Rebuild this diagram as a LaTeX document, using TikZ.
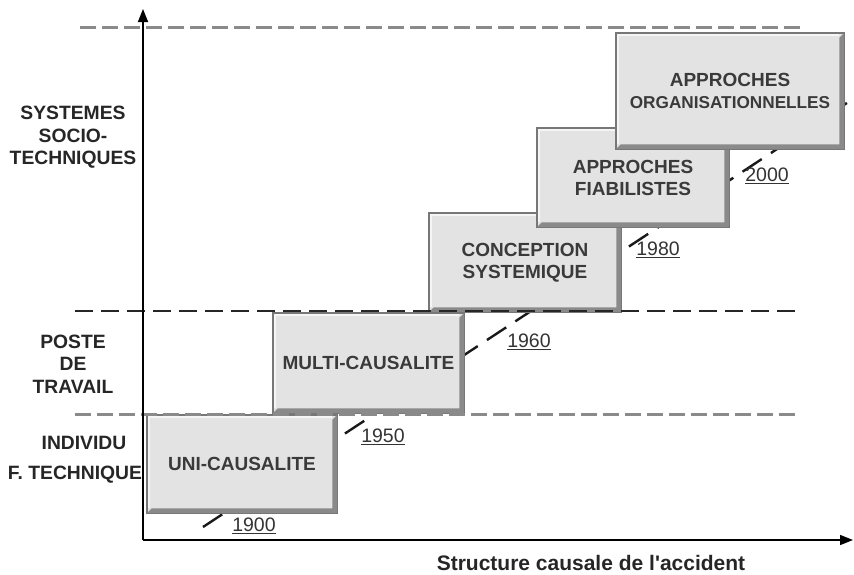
\documentclass[tikz,border=0pt]{standalone}
\usepackage{fontspec}
\setmainfont{Liberation Sans}
\usetikzlibrary{arrows.meta,calc}
\definecolor{boxfill}{HTML}{E3E3E3}
\definecolor{boxedge}{HTML}{777777}
\definecolor{boxshade}{HTML}{8A8A8A}
\definecolor{boxtext}{HTML}{3A3A3A}
\definecolor{levelgray}{HTML}{8A8A8A}
\tikzset{
  stagebox/.style={draw=boxedge, line width=0.9pt, fill=boxfill, inner sep=0pt,
    align=center, text=boxtext, font=\bfseries\fontsize{19}{22}\selectfont},
  levellabel/.style={align=center, text=black!85, font=\bfseries\fontsize{19.3}{22.5}\selectfont},
  yearlabel/.style={text=black!80, font=\fontsize{19.5}{20}\selectfont, inner sep=0pt},
  axisline/.style={line width=1.6pt, -{Triangle[length=13pt,width=10pt]}},
  graylevel/.style={draw=levelgray, line width=3pt, dash pattern=on 16pt off 6pt},
  blacklevel/.style={draw=black!85, line width=1.8pt, dash pattern=on 18pt off 8pt},
  timeline/.style={draw=black!90, line width=2.4pt, dash pattern=on 23pt off 11pt},
}
% bevel: dark band on the bottom and right, light rim on the top and left
\newcommand{\bevel}[1]{%
  \fill[boxshade] (#1.south west) -- (#1.south east) -- (#1.north east)
    -- ($(#1.north east)+(-5,5)$) -- ($(#1.south east)+(-5,-5)$)
    -- ($(#1.south west)+(5,-5)$) -- cycle;
  \draw[white!92!gray, line width=1.5pt]
    ($(#1.south west)+(2.5,-5)$) -- ($(#1.north west)+(2.5,2.5)$) -- ($(#1.north east)+(-5,2.5)$);
  \draw[boxedge, line width=0.9pt] (#1.south west) rectangle (#1.north east);
}
\begin{document}
\begin{tikzpicture}[x=1pt, y=-1pt]
  \useasboundingbox (0,0) rectangle (854,574);

  % time line running behind the stages
  \coordinate (d0) at (203,527);
  \coordinate (d1) at (856,97);
  \draw[timeline] (d0) -- (d1);

  % stages
  \node[stagebox, minimum width=190pt, minimum height=98pt] (uni) at (242,464) {UNI-CAUSALITE};
  \bevel{uni}
  \node[stagebox, minimum width=191pt, minimum height=100pt] (multi) at (368.5,363) {MULTI-CAUSALITE};
  \bevel{multi}
  \node[stagebox, minimum width=192pt, minimum height=99pt] (conc) at (525,262.5) {CONCEPTION\\SYSTEMIQUE};
  \bevel{conc}
  \node[stagebox, minimum width=192pt, minimum height=99pt] (fiab) at (633,177.5) {APPROCHES\\FIABILISTES};
  \bevel{fiab}
  \node[stagebox, minimum width=228pt, minimum height=116pt] (org) at (730,91)
    {APPROCHES\\{\fontsize{17.2}{21}\selectfont ORGANISATIONNELLES}};
  \bevel{org}

  % level boundaries
  \coordinate (t0) at (80,27);   \coordinate (t1) at (800,27);
  \coordinate (m0) at (75,311);  \coordinate (m1) at (795,311);
  \coordinate (b0) at (75,414);  \coordinate (b1) at (795,414);
  \draw[graylevel] (t0) -- (t1);
  \draw[blacklevel] (m0) -- (m1);
  \draw[graylevel] (b0) -- (b1);

  % axes
  \coordinate (o) at (143,540);
  \coordinate (ytop) at (143,9);
  \coordinate (xend) at (853,540);
  \draw[axisline] (o) -- (ytop);
  \draw[axisline] (o) -- (xend);

  % level names
  \node[levellabel] (sys) at (73,137.5) {SYSTEMES\\SOCIO-\\TECHNIQUES};
  \node[levellabel] (poste) at (73,364) {POSTE\\DE\\TRAVAIL};
  \node[levellabel] (indiv) at (84,443) {INDIVIDU};
  \node[levellabel] (ftech) at (75,475) {F. TECHNIQUE};

  % years
  \node[yearlabel] (y1900) at (254,526) {\underline{1900}};
  \node[yearlabel] (y1950) at (383,437) {\underline{1950}};
  \node[yearlabel] (y1960) at (529,342) {\underline{1960}};
  \node[yearlabel] (y1980) at (658,250) {\underline{1980}};
  \node[yearlabel] (y2000) at (767,176) {\underline{2000}};

  % axis title
  \node[text=black!85, font=\bfseries\fontsize{21}{24}\selectfont] (xtitle) at (591,563)
    {Structure causale de l\textquotesingle accident};
\end{tikzpicture}
\end{document}
